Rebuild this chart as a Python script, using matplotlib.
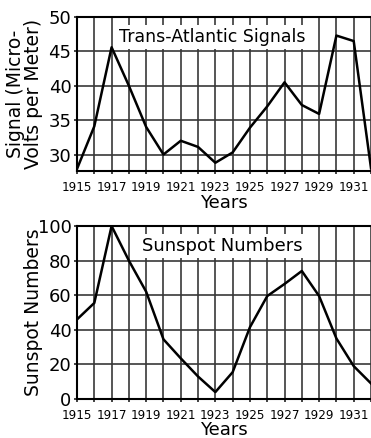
import matplotlib
matplotlib.use("Agg")
import matplotlib.pyplot as plt
from matplotlib import font_manager

# years shown on both charts
years = list(range(1915, 1933))

# trans-atlantic signal strength, microvolts per meter
signal = [27.9, 34.1, 45.6, 40.0, 34.0, 30.0, 32.0, 31.1, 28.8, 30.3,
          33.9, 37.0, 40.5, 37.2, 35.9, 47.3, 46.5, 28.0]

# sunspot numbers
sunspots = [46, 55.5, 100, 80, 62, 34.5, 23.5, 13, 4, 15.5,
            41.5, 59.5, 66.5, 74, 59.5, 35, 19, 9]

tick_years = list(range(1915, 1932, 2))
signal_ticks = [30, 35, 40, 45, 50]
sunspot_ticks = [0, 20, 40, 60, 80, 100]

plt.rcParams['font.family'] = ['DejaVu Sans']

# the year labels are hand lettered and very narrow, pick a condensed face if there is one
installed = {(f.name, f.stretch) for f in font_manager.fontManager.ttflist}
names = {n for n, _ in installed}
year_font = dict(family='Liberation Sans', fontsize=9.5)
if any(n == 'DejaVu Sans' and s in ('condensed', 'semi-condensed', 600, 700) for n, s in installed) \
        or 'DejaVu Sans Condensed' in names:
    year_font = dict(family='DejaVu Sans', stretch='condensed', fontsize=9.5)
elif 'Liberation Sans Narrow' in names:
    year_font = dict(family='Liberation Sans Narrow', fontsize=10.5)
elif 'Roboto Condensed' in names:
    year_font = dict(family='Roboto Condensed', fontsize=10)

fig = plt.figure(figsize=(3.71, 4.38), dpi=100)
ax1 = fig.add_axes([77 / 371, 1 - 171 / 438, 1 - 77 / 371, 154 / 438])
ax2 = fig.add_axes([77 / 371, 1 - 399 / 438, 1 - 77 / 371, 173 / 438])

grid_kw = dict(color='#383838', linewidth=1.2)

def style(ax, yticks, ylim, title, title_size, title_pos, ylabel, ypad, xpad):
    ax.set_xlim(1915, 1931.82)
    ax.set_ylim(*ylim)
    ax.set_xticks(tick_years)
    ax.set_xticks(years, minor=True)
    ax.set_yticks(yticks)
    ax.set_xticklabels([str(y) for y in tick_years], **year_font)
    ax.set_yticklabels([str(v) for v in yticks], fontsize=13)
    ax.grid(True, which='both', axis='x', **grid_kw)
    ax.grid(True, which='major', axis='y', **grid_kw)
    ax.tick_params(which='both', length=2, width=1.2, color='#222222')
    ax.tick_params(axis='x', pad=5)
    ax.tick_params(axis='y', pad=2)
    ax.spines['right'].set_visible(False)
    for s in ['left', 'top', 'bottom']:
        ax.spines[s].set_linewidth(1.5)
    ax.set_axisbelow(True)
    ax.set_xlabel('Years', fontsize=13, labelpad=xpad)
    ax.set_ylabel(ylabel, fontsize=13.5, labelpad=ypad, linespacing=0.9)
    ax.text(title_pos[0], title_pos[1], title, transform=ax.transAxes,
            ha='center', va='center', fontsize=title_size,
            bbox=dict(facecolor='white', edgecolor='none', pad=2))

ax1.plot(years, signal, color='black', linewidth=1.8)
style(ax1, signal_ticks, (27.6, 50), 'Trans-Atlantic Signals', 12.5,
      (0.459, 0.87), 'Signal (Micro-\nVolts per Meter)', 4, 0)

ax2.plot(years, sunspots, color='black', linewidth=1.8)
style(ax2, sunspot_ticks, (0, 100), 'Sunspot Numbers', 13,
      (0.495, 0.885), 'Sunspot Numbers', -4, -0.5)

fig.savefig('out.png', dpi=100)
